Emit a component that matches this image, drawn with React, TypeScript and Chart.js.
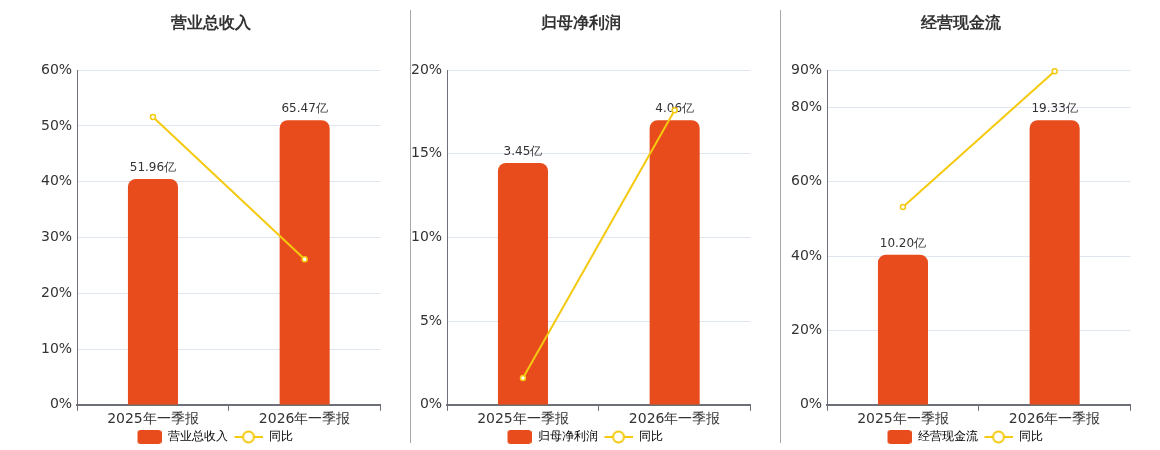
import React, { useEffect, useRef } from "react";
import { Chart, registerables } from "chart.js";

Chart.register(...registerables);

const categories = ["2025年一季报", "2026年一季报"];

const revenueValues = [51.96, 65.47];
const revenueYoy = [51.6, 26.1];
const revenueTicks = [0, 10, 20, 30, 40, 50, 60];

const profitValues = [3.45, 4.06];
const profitYoy = [1.6, 17.6];
const profitTicks = [0, 5, 10, 15, 20];

const cashValues = [10.2, 19.33];
const cashYoy = [53.2, 89.7];
const cashTicks = [0, 20, 40, 60, 80, 90];

const yoyLabel = "同比";

const BAR_COLOR = "#E84C1D";
const LINE_COLOR = "#F4C90E";
const AXIS_COLOR = "#6E7079";
const GRID_COLOR = "#E0E6F1";
const TEXT_COLOR = "#333333";
const FONT = '"DejaVu Sans", Verdana, sans-serif';

const panels = [
  { title: "营业总收入", values: revenueValues, yoy: revenueYoy, ticks: revenueTicks, left: 28 },
  { title: "归母净利润", values: profitValues, yoy: profitYoy, ticks: profitTicks, left: 398 },
  { title: "经营现金流", values: cashValues, yoy: cashYoy, ticks: cashTicks, left: 778 },
];

// legend icons: 32px wide, content right-aligned so the text gap stays small
function boxIcon(color: string) {
  const c = document.createElement("canvas");
  c.width = 32;
  c.height = 14;
  const ctx = c.getContext("2d")!;
  ctx.fillStyle = color;
  ctx.beginPath();
  ctx.roundRect(8, 0, 24, 14, 3);
  ctx.fill();
  return c;
}

function lineIcon(color: string) {
  const c = document.createElement("canvas");
  c.width = 32;
  c.height = 14;
  const ctx = c.getContext("2d")!;
  ctx.strokeStyle = color;
  ctx.lineWidth = 2;
  ctx.beginPath();
  ctx.moveTo(4, 7);
  ctx.lineTo(32, 7);
  ctx.stroke();
  ctx.beginPath();
  ctx.arc(18, 7, 5.5, 0, Math.PI * 2);
  ctx.fillStyle = "#fff";
  ctx.fill();
  ctx.stroke();
  return c;
}

const barLabels = {
  id: "barLabels",
  afterDatasetDraw(chart: any, args: any) {
    const ds = chart.data.datasets[args.index];
    if (ds.type !== "bar") return;
    const ctx = chart.ctx;
    ctx.save();
    ctx.font = `12px ${FONT}`;
    ctx.fillStyle = TEXT_COLOR;
    ctx.textAlign = "center";
    ctx.textBaseline = "bottom";
    args.meta.data.forEach((el: any, i: number) => {
      ctx.fillText(ds.data[i].toFixed(2) + "亿", el.x, el.y - 5);
    });
    ctx.restore();
  },
};

interface PanelProps {
  title: string;
  values: number[];
  yoy: number[];
  ticks: number[];
}

const ComboChart: React.FC<PanelProps> = ({ title, values, yoy, ticks }) => {
  const chartRef = useRef<HTMLCanvasElement>(null);
  const chartInstance = useRef<Chart>();

  useEffect(() => {
    if (!chartRef.current) return;
    const ctx = chartRef.current.getContext("2d");
    if (!ctx) return;
    const barIcon = boxIcon(BAR_COLOR);
    const yoyIcon = lineIcon(LINE_COLOR);

    chartInstance.current = new Chart(ctx, {
      type: "bar",
      data: {
        labels: categories,
        datasets: [
          {
            type: "bar",
            label: title,
            data: values,
            yAxisID: "yBar",
            backgroundColor: BAR_COLOR,
            borderRadius: { topLeft: 8, topRight: 8, bottomLeft: 0, bottomRight: 0 },
            borderSkipped: false,
            barPercentage: 0.33,
            categoryPercentage: 1,
            order: 2,
          },
          {
            type: "line",
            label: yoyLabel,
            data: yoy,
            yAxisID: "y",
            borderColor: LINE_COLOR,
            borderWidth: 2,
            pointRadius: 2.5,
            pointBorderWidth: 1.5,
            pointBackgroundColor: "#fff",
            pointBorderColor: LINE_COLOR,
            tension: 0,
            clip: false,
            order: 1,
          },
        ] as any,
      },
      options: {
        animation: false,
        responsive: true,
        maintainAspectRatio: false,
        layout: { padding: { left: 0, right: 0, top: 0, bottom: -5 } },
        scales: {
          x: {
            offset: true,
            grid: {
              display: true,
              drawOnChartArea: false,
              drawTicks: true,
              tickLength: 6,
              color: AXIS_COLOR,
              offset: true,
            },
            border: { display: true, color: AXIS_COLOR, width: 2 },
            ticks: {
              color: TEXT_COLOR,
              font: { size: 14, family: FONT, lineHeight: 0.8 },
              padding: 3,
            },
          },
          y: {
            position: "left",
            min: 0,
            max: ticks[ticks.length - 1],
            afterBuildTicks: (axis: any) => {
              axis.ticks = ticks.map((v) => ({ value: v }));
            },
            grid: { color: GRID_COLOR, drawTicks: false },
            border: { display: true, color: AXIS_COLOR, width: 1 },
            ticks: {
              color: TEXT_COLOR,
              font: { size: 14, family: FONT },
              padding: 5,
              callback: (v: any) => v + "%",
            },
          },
          yBar: {
            display: false,
            min: 0,
            max: Math.max(...values) * 1.176,
          },
        },
        plugins: {
          tooltip: { enabled: false },
          title: {
            display: true,
            text: title,
            color: TEXT_COLOR,
            font: { size: 16, weight: "bold", family: FONT },
            padding: { top: 6, bottom: 37 },
          },
          legend: {
            position: "bottom",
            labels: {
              usePointStyle: true,
              pointStyleWidth: 32,
              boxHeight: 14,
              padding: 3,
              color: TEXT_COLOR,
              font: { size: 12, family: FONT },
              generateLabels: () => [
                {
                  text: title,
                  pointStyle: barIcon,
                  fillStyle: BAR_COLOR,
                  strokeStyle: BAR_COLOR,
                  lineWidth: 0,
                  hidden: false,
                  datasetIndex: 0,
                } as any,
                {
                  text: yoyLabel,
                  pointStyle: yoyIcon,
                  fillStyle: "#fff",
                  strokeStyle: LINE_COLOR,
                  lineWidth: 0,
                  hidden: false,
                  datasetIndex: 1,
                } as any,
              ],
            },
          },
        },
      },
      plugins: [barLabels],
    });

    return () => {
      if (chartInstance.current) {
        chartInstance.current.destroy();
      }
    };
  }, [title, values, yoy, ticks]);

  return <canvas ref={chartRef} />;
};

const App: React.FC = () => {
  return (
    <div style={{ position: "relative", width: 1144, height: 440, fontFamily: FONT }}>
      <div style={{ position: "absolute", left: 402, top: 2, width: 1, height: 433, background: "#A8A8A8" }} />
      <div style={{ position: "absolute", left: 772, top: 2, width: 1, height: 433, background: "#A8A8A8" }} />
      {panels.map((p) => (
        <div key={p.title} style={{ position: "absolute", left: p.left, top: 0, width: 350, height: 440 }}>
          <ComboChart title={p.title} values={p.values} yoy={p.yoy} ticks={p.ticks} />
        </div>
      ))}
    </div>
  );
};

export default App;
